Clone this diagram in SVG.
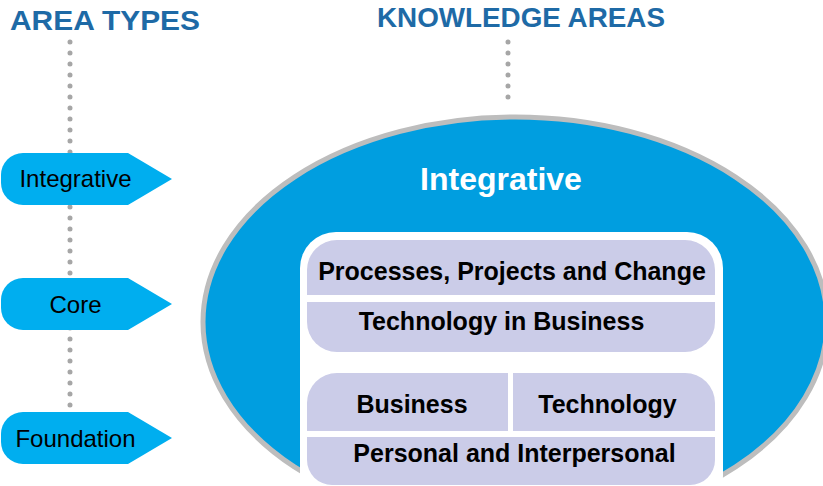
<svg xmlns="http://www.w3.org/2000/svg" width="823" height="486" viewBox="0 0 823 486">
  <style>
    .head { font-family: "Liberation Sans", Arial, sans-serif; font-weight: bold; font-size: 28.5px; fill: #1e6aa6; }
    .tag { fill: #00aeef; }
    .tagtxt { font-family: "Liberation Sans", Arial, sans-serif; font-size: 24px; fill: #000; text-anchor: middle; }
    .box { fill: #cbcce8; }
    .boxtxt { font-family: "Liberation Sans", Arial, sans-serif; font-weight: bold; font-size: 25px; fill: #000; text-anchor: middle; }
    .dots { stroke: #a6a6a6; stroke-width: 5; stroke-linecap: round; stroke-dasharray: 0 11; fill: none; }
  </style>
  <defs>
    <path id="pent" d="M 23 0 H 128 L 172 26 L 128 52 H 23 A 22 22 0 0 1 1 30 V 22 A 22 22 0 0 1 23 0 Z"/>
  </defs>
  <rect width="823" height="486" fill="#ffffff"/>

  <g id="connectors">
    <line class="dots" x1="70" y1="42" x2="70" y2="410"/>
    <line class="dots" x1="508" y1="42" x2="508" y2="98"/>
  </g>

  <g id="header-area-types">
    <text class="head" x="10" y="30" textLength="190" lengthAdjust="spacingAndGlyphs">AREA TYPES</text>
  </g>
  <g id="header-knowledge-areas">
    <text class="head" x="377" y="27" textLength="288" lengthAdjust="spacingAndGlyphs">KNOWLEDGE AREAS</text>
  </g>

  <g id="type-integrative">
    <use href="#pent" class="tag" transform="translate(0,153)"/>
    <text class="tagtxt" x="75.5" y="187">Integrative</text>
  </g>
  <g id="type-core">
    <use href="#pent" class="tag" transform="translate(0,278)"/>
    <text class="tagtxt" x="75.5" y="313">Core</text>
  </g>
  <g id="type-foundation">
    <use href="#pent" class="tag" transform="translate(0,412)"/>
    <text class="tagtxt" x="75.5" y="447">Foundation</text>
  </g>

  <g id="area-integrative">
    <ellipse cx="515" cy="322" rx="312" ry="205" fill="#009ee0" stroke="#bdbdbd" stroke-width="5"/>
    <text x="501" y="190" font-family="Liberation Sans, Arial, sans-serif" font-weight="bold" font-size="32" fill="#ffffff" text-anchor="middle">Integrative</text>
  </g>

  <g id="inner-panel">
    <rect x="300" y="232" width="423" height="280" rx="36" ry="36" fill="#ffffff"/>
  </g>

  <g id="area-processes">
    <path class="box" d="M 307 295 V 270 A 30 30 0 0 1 337 240 H 685 A 30 30 0 0 1 715 270 V 295 Z"/>
    <text class="boxtxt" x="512" y="280">Processes, Projects and Change</text>
  </g>
  <g id="area-tech-in-business">
    <path class="box" d="M 307 302 H 715 V 322 A 30 30 0 0 1 685 352 H 337 A 30 30 0 0 1 307 322 Z"/>
    <text class="boxtxt" x="501.5" y="330">Technology in Business</text>
  </g>
  <g id="area-business">
    <path class="box" d="M 307 431 V 403 A 30 30 0 0 1 337 373 H 508 V 431 Z"/>
    <text class="boxtxt" x="412" y="413">Business</text>
  </g>
  <g id="area-technology">
    <path class="box" d="M 513 373 H 685 A 30 30 0 0 1 715 403 V 431 H 513 Z"/>
    <text class="boxtxt" x="607.5" y="413">Technology</text>
  </g>
  <g id="area-personal">
    <path class="box" d="M 307 437 H 715 V 460 A 25 25 0 0 1 690 485 H 332 A 25 25 0 0 1 307 460 Z"/>
    <text class="boxtxt" x="514.5" y="462">Personal and Interpersonal</text>
  </g>
</svg>
